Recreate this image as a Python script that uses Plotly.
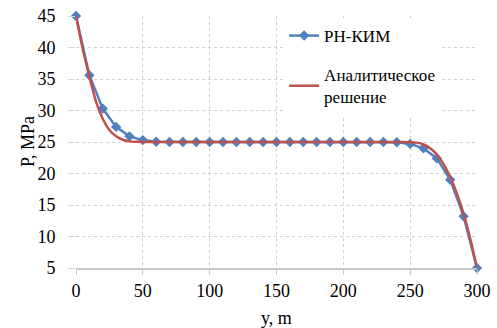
import plotly.graph_objects as go

# Numerical (РН-КИМ) points
y_num = [0, 10, 20, 30, 40, 50, 60, 70, 80, 90, 100, 110, 120, 130, 140, 150,
         160, 170, 180, 190, 200, 210, 220, 230, 240, 250, 260, 270, 280, 290, 300]
p_num = [45, 35.6, 30.3, 27.4, 25.9, 25.3, 25.05, 25, 25, 25, 25, 25, 25, 25, 25, 25,
         25, 25, 25, 25, 25, 25, 25, 25, 24.95, 24.7, 24.0, 22.4, 19.0, 13.2, 5]

# Analytical solution
y_an = [0, 5, 10, 15, 20, 25, 30, 35, 40, 45, 50, 100, 150, 200, 245, 250, 255,
        260, 265, 270, 275, 280, 285, 290, 295, 300]
p_an = [45, 39.8, 35.4, 31.4, 28.7, 26.9, 25.9, 25.35, 25.1, 25.03, 25, 25, 25, 25, 25,
        24.98, 24.9, 24.6, 24.0, 23.0, 21.5, 19.4, 16.8, 13.6, 9.6, 5]

x_ticks = [0, 50, 100, 150, 200, 250, 300]
y_ticks = [5, 10, 15, 20, 25, 30, 35, 40, 45]
x_title = "y, m"
y_title = "P, MPa"

blue = "#4f81bd"
red = "#c0504d"
font = "Liberation Serif"

fig = go.Figure()
fig.add_trace(go.Scatter(
    x=y_num, y=p_num, mode="lines+markers", name="РН-КИМ",
    legendgroup="a", cliponaxis=False,
    line=dict(color=blue, width=2.5),
    marker=dict(symbol="diamond", size=8, color=blue),
))
fig.add_trace(go.Scatter(
    x=y_an, y=p_an, mode="lines", name="Аналитическое<br>решение",
    legendgroup="b", cliponaxis=False,
    line=dict(color=red, width=2.5, shape="spline", smoothing=0.6),
))

fig.update_layout(
    width=497, height=328,
    margin=dict(l=76, r=20, t=16, b=60),
    paper_bgcolor="white", plot_bgcolor="white",
    font=dict(family=font, size=18, color="black"),
    showlegend=True,
    legend=dict(x=0.519, y=0.992, xanchor="left", yanchor="top",
                bgcolor="rgba(255,255,255,1)", font=dict(family=font, size=17),
                traceorder="grouped", tracegroupgap=14, itemwidth=30),
    xaxis=dict(
        range=[0, 300], tickvals=x_ticks, showgrid=True, automargin=False,
        gridcolor="#d0d0d0", griddash="dot", gridwidth=1,
        zeroline=False, showline=True, linecolor="#c8c8c8", linewidth=2,
        ticks="outside", ticklen=5, tickcolor="#c8c8c8", ticklabelstandoff=0,
        ticklabeloverflow="allow",
        tickfont=dict(family=font, size=18),
    ),
    yaxis=dict(
        range=[5, 45], tickvals=y_ticks, showgrid=True, automargin=False,
        gridcolor="#d0d0d0", griddash="dot", gridwidth=1,
        zeroline=False, showline=False,
        ticks="outside", ticklen=7, tickcolor="#d8d8d8", ticklabelstandoff=9,
        ticklabeloverflow="allow",
        tickfont=dict(family=font, size=18),
    ),
    annotations=[
        dict(text=x_title, xref="paper", yref="paper", x=0.5, y=-0.198,
             xanchor="center", yanchor="middle", showarrow=False,
             font=dict(family=font, size=18)),
        dict(text=y_title, xref="paper", yref="paper", x=-0.1197, y=0.5,
             xanchor="center", yanchor="middle", showarrow=False, textangle=-90,
             font=dict(family=font, size=18)),
    ],
)

# remove the default 8px page margin so the figure sits at the window's corner
fig.write_html("out.html", config={"displayModeBar": False},
               post_script="document.body.style.margin='0';")
